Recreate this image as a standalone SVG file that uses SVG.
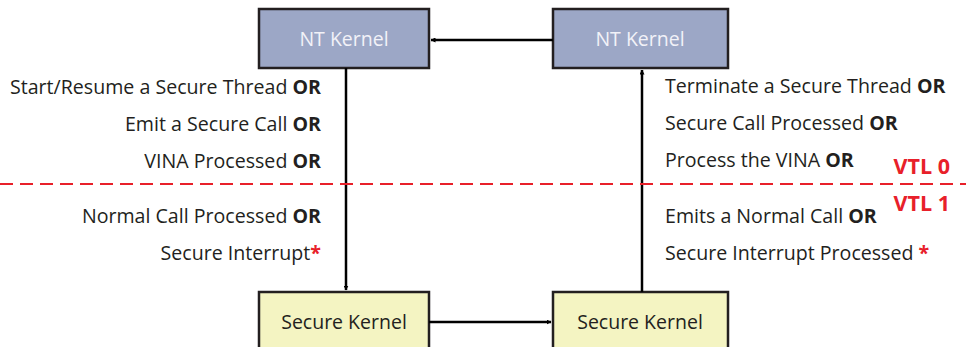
<svg xmlns="http://www.w3.org/2000/svg" width="966" height="347" viewBox="0 0 966 347">
<defs>
<marker id="ah" viewBox="0 0 10 10" refX="9" refY="5" markerWidth="5" markerHeight="5" orient="auto" markerUnits="userSpaceOnUse">
<path d="M0,0 L10,5 L0,10 z" fill="#000"/>
</marker>
<style>
.nt{fill:#9ca7c6;stroke:#231f20;stroke-width:2.5}
.sk{fill:#f4f4c2;stroke:#231f20;stroke-width:2.5}
.bt{font-family:"Open Sans","Noto Sans",sans-serif;font-size:19.5px;text-anchor:middle}
.t{font-family:"Open Sans","Noto Sans",sans-serif;font-size:19.6px;fill:#231f20}
.r{text-anchor:end}
.b{font-weight:bold}
.red{fill:#e8202a;font-weight:bold}
.v{font-size:21.5px}
.c{stroke:#000;stroke-width:2.5;fill:none}
</style>
</defs>
<g id="nt-left"><rect class="nt" x="259" y="9" width="170" height="59"/><text class="bt" x="344" y="46" fill="#f2f2f8">NT Kernel</text></g>
<g id="nt-right"><rect class="nt" x="553" y="9" width="175" height="59"/><text class="bt" x="640" y="46" fill="#f2f2f8">NT Kernel</text></g>
<g id="sk-left"><rect class="sk" x="259" y="292" width="170" height="70"/><text class="bt" x="344" y="329" fill="#231f20">Secure Kernel</text></g>
<g id="sk-right"><rect class="sk" x="553" y="292" width="175" height="70"/><text class="bt" x="640" y="329" fill="#231f20">Secure Kernel</text></g>
<g id="connectors">
<line class="c" x1="553" y1="40" x2="431" y2="40" marker-end="url(#ah)"/>
<line class="c" x1="346" y1="68" x2="346" y2="290" marker-end="url(#ah)"/>
<line class="c" x1="429" y1="322" x2="551" y2="322" marker-end="url(#ah)"/>
<line class="c" x1="642" y1="292" x2="642" y2="70" marker-end="url(#ah)"/>
</g>
<line x1="0" y1="184" x2="966" y2="184" stroke="#e8202a" stroke-width="2" stroke-dasharray="13,7"/>
<g id="labels-left">
<text class="t r" x="321" y="94">Start/Resume a Secure Thread <tspan class="b">OR</tspan></text>
<text class="t r" x="321" y="131">Emit a Secure Call <tspan class="b">OR</tspan></text>
<text class="t r" x="321" y="168">VINA Processed <tspan class="b">OR</tspan></text>
<text class="t r" x="321" y="223">Normal Call Processed <tspan class="b">OR</tspan></text>
<text class="t r" x="321" y="260">Secure Interrupt<tspan class="red">*</tspan></text>
</g>
<g id="labels-right">
<text class="t" x="665" y="93">Terminate a Secure Thread <tspan class="b">OR</tspan></text>
<text class="t" x="665" y="130">Secure Call Processed <tspan class="b">OR</tspan></text>
<text class="t" x="665" y="167">Process the VINA <tspan class="b">OR</tspan></text>
<text class="t" x="665" y="223">Emits a Normal Call <tspan class="b">OR</tspan></text>
<text class="t" x="665" y="260">Secure Interrupt Processed <tspan class="red">*</tspan></text>
</g>
<g id="vtl">
<text class="t red v" x="950" y="174" text-anchor="end">VTL 0</text>
<text class="t red v" x="950" y="211" text-anchor="end">VTL 1</text>
</g>
</svg>
